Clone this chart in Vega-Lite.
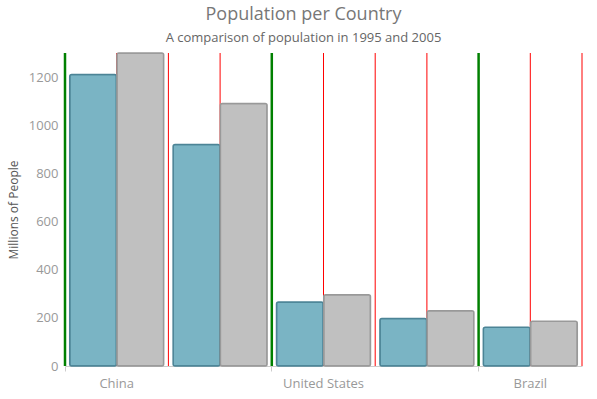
{
  "$schema": "https://vega.github.io/schema/vega-lite/v6.json",
  "width": 517,
  "height": 313,
  "autosize": "none",
  "padding": {"left": 65, "top": 53, "right": 15, "bottom": 33},
  "title": {
    "text": "Population per Country",
    "subtitle": "A comparison of population in 1995 and 2005",
    "anchor": "middle",
    "dx": -20,
    "font": "Open Sans",
    "fontSize": 18,
    "fontWeight": "normal",
    "color": "#777777",
    "subtitleFont": "Open Sans",
    "subtitleFontSize": 13,
    "subtitleColor": "#666666",
    "subtitlePadding": 8,
    "offset": 7
  },
  "config": {"view": {"stroke": null}},
  "data": {
    "values": [
      {"country": "China", "year": "1995", "population": 1211},
      {"country": "China", "year": "2005", "population": 1300},
      {"country": "India", "year": "1995", "population": 920},
      {"country": "India", "year": "2005", "population": 1090},
      {"country": "United States", "year": "1995", "population": 266},
      {"country": "United States", "year": "2005", "population": 296},
      {"country": "Indonesia", "year": "1995", "population": 197},
      {"country": "Indonesia", "year": "2005", "population": 229},
      {"country": "Brazil", "year": "1995", "population": 161},
      {"country": "Brazil", "year": "2005", "population": 186}
    ]
  },
  "layer": [
    {
      "transform": [{"filter": "datum.year === '1995'"}],
      "mark": {"type": "rule", "color": "red", "strokeWidth": 1},
      "encoding": {
        "x": {"field": "country", "type": "nominal", "sort": null, "bandPosition": 0.5}
      }
    },
    {
      "transform": [{"filter": "datum.year === '1995' && datum.country === 'Brazil'"}],
      "mark": {"type": "rule", "color": "red", "strokeWidth": 1},
      "encoding": {
        "x": {"field": "country", "type": "nominal", "sort": null, "bandPosition": 1}
      }
    },
    {
      "transform": [{"filter": "datum.year === '1995'"}],
      "mark": {"type": "rule"},
      "encoding": {
        "x": {"field": "country", "type": "nominal", "sort": null, "bandPosition": 0},
        "color": {"condition": {"test": "datum.country === 'India' || datum.country === 'Indonesia'", "value": "red"}, "value": "green"},
        "strokeWidth": {"condition": {"test": "datum.country === 'India' || datum.country === 'Indonesia'", "value": 1}, "value": 2.5}
      }
    },
    {
      "mark": {"type": "bar", "cornerRadius": 2, "strokeWidth": 1.5},
      "encoding": {
        "x": {
          "field": "country",
          "type": "nominal",
          "sort": null,
          "scale": {"paddingInner": 0, "paddingOuter": 0},
          "axis": {
            "title": null,
            "bandPosition": 0,
            "grid": false,
            "tickColor": {"condition": {"test": "datum.value === 'India' || datum.value === 'Indonesia'", "value": "transparent"}, "value": "#cccccc"},
            "tickSize": 5,
            "labelExpr": "datum.value === 'India' || datum.value === 'Indonesia' ? '' : datum.label",
            "labelAngle": 0,
            "labelAlign": "center",
            "labelFont": "Open Sans",
            "labelFontSize": 13,
            "labelColor": "#999999",
            "labelPadding": 12,
            "domainColor": "#cccccc"
          }
        },
        "xOffset": {"field": "year", "type": "nominal", "scale": {"paddingInner": 0.01, "paddingOuter": 0.1}},
        "y": {
          "field": "population",
          "type": "quantitative",
          "scale": {"domain": [0, 1300], "nice": false},
          "axis": {
            "title": "Millions of People",
            "values": [0, 200, 400, 600, 800, 1000, 1200],
            "format": "d",
            "grid": false,
            "ticks": false,
            "domain": false,
            "labelFont": "Open Sans",
            "labelFontSize": 13,
            "labelColor": "#999999",
            "labelPadding": 7,
            "titleFont": "Open Sans",
            "titleFontSize": 12,
            "titleFontWeight": "normal",
            "titleColor": "#555555",
            "titlePadding": 8
          }
        },
        "color": {"field": "year", "type": "nominal", "scale": {"domain": ["1995", "2005"], "range": ["#7AB4C4", "#C0C0C0"]}, "legend": null},
        "stroke": {"field": "year", "type": "nominal", "scale": {"domain": ["1995", "2005"], "range": ["#4C8496", "#999999"]}, "legend": null}
      }
    }
  ]
}
